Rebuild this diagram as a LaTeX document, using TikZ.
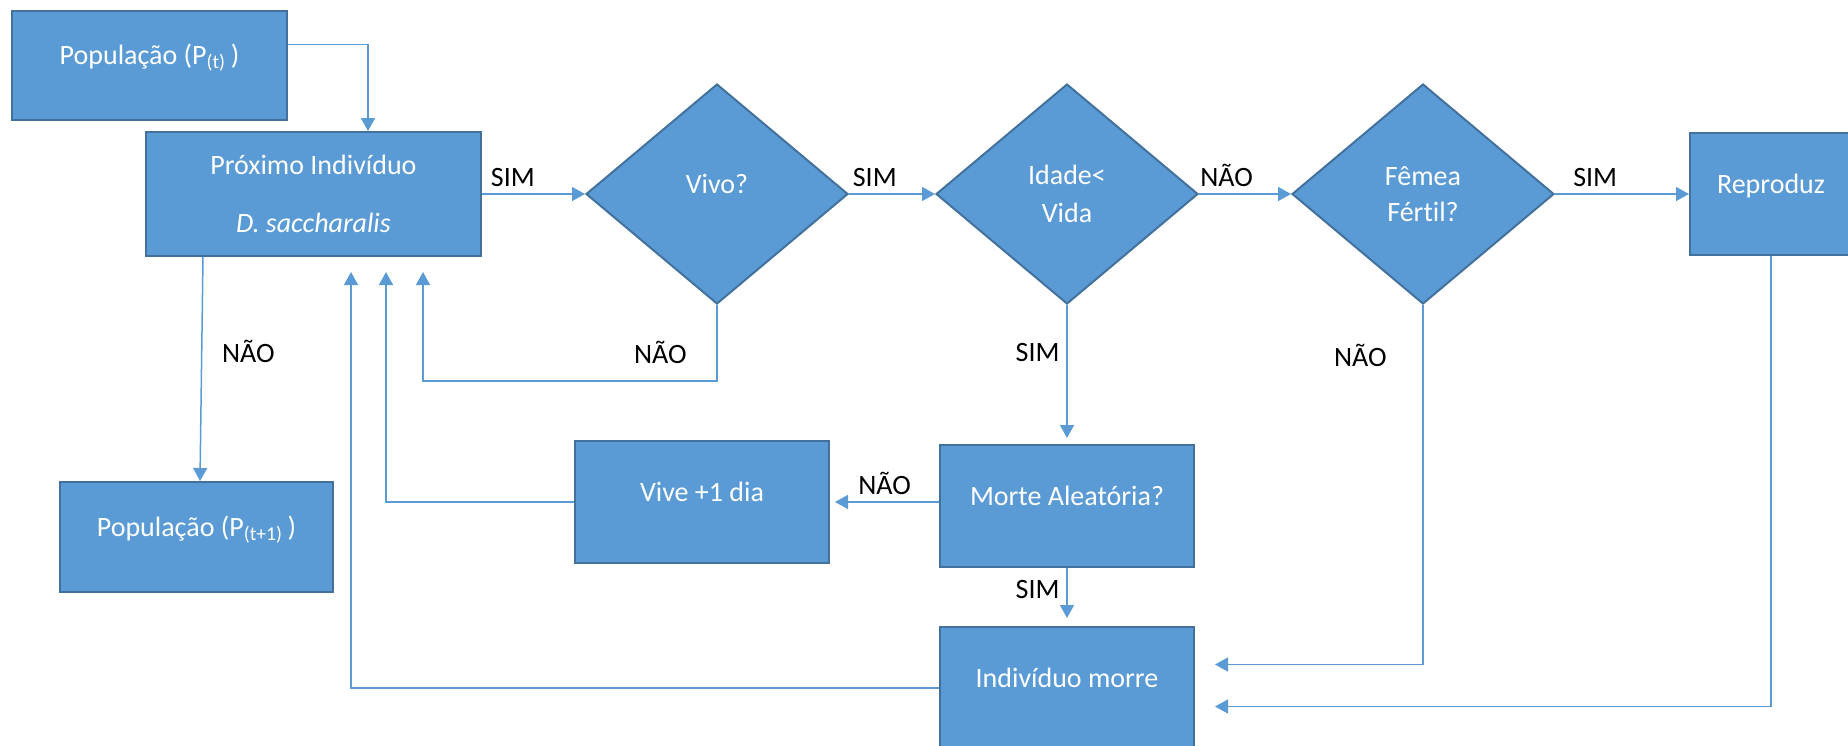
\documentclass[tikz,border=0pt]{standalone}
\usepackage{fontspec}
\setmainfont{Carlito}[Ligatures=NoCommon]
\usetikzlibrary{positioning,shapes.geometric,arrows.meta}

\definecolor{boxfill}{RGB}{91,155,213}
\definecolor{boxline}{RGB}{65,113,156}
\definecolor{flowline}{RGB}{91,155,213}

\tikzset{
  box/.style={draw=boxline, fill=boxfill, line width=1pt, text=white,
    font=\fontsize{14}{17}\selectfont, minimum width=127pt, minimum height=61pt, inner sep=2pt},
  raised/.style={text height=11pt, text depth=12pt},
  decision/.style={diamond, draw=boxline, fill=boxfill, line width=1pt, text=white,
    font=\fontsize{14}{17}\selectfont, minimum width=131pt, minimum height=110pt,
    inner sep=0pt, align=center},
  flow/.style={draw=flowline, line width=0.75pt, -{Triangle[length=6.5pt,width=7pt]}},
  answer/.style={font=\fontsize{14}{17}\selectfont, text=black},
}

\begin{document}
\begin{tikzpicture}
    \useasboundingbox (0,0) rectangle (924pt,-372.5pt);
    % main row
    \node[box, align=center, minimum width=167.5pt, minimum height=62pt] (prox) at (156.75pt,-97pt)
      {Próximo Indivíduo\\[12pt]\textit{D. saccharalis}};
    \node[decision, raised, right = 51.5pt of prox] (vivo) {Vivo?};
    \node[decision, right = 43pt of vivo] (idade) {Idade<\\[2pt]Vida};
    \node[decision, right = 46pt of idade] (femea) {Fêmea\\[1pt]Fértil?};
    \node[box, raised, minimum width=81pt, right = 67pt of femea] (repro) {Reproduz};
    % populations
    \node[box, raised, minimum width=137.5pt, minimum height=54.5pt, above = 5pt of prox, xshift=-82pt] (popt)
      {População (P\textsubscript{(t)}\,)};
    \node[box, raised, minimum width=136.5pt, minimum height=55pt, below = 112pt of prox, xshift=-58.5pt] (popt1)
      {População (P\textsubscript{(t+1)}\,)};
    % lower row
    \node[box, raised, below = 69.5pt of idade] (morte) {Morte Aleatória?};
    \node[box, raised, below = 29pt of morte] (morre) {Indivíduo morre};
    \node[box, raised, left = 54.5pt of morte, yshift=2pt] (vive) {Vive +1 dia};
    % yes / no along the row
    \draw[flow] ([yshift=10.5pt]popt.east) -| ([xshift=27.25pt]prox.north);
    \draw[flow] (prox) -- node[answer, above, pos=0.3] {SIM} (vivo);
    \draw[flow] (vivo) -- node[answer, above, pos=0.3] {SIM} (idade);
    \draw[flow] (idade) -- node[answer, above, pos=0.3] {NÃO} (femea);
    \draw[flow] (femea) -- node[answer, above, pos=0.3] {SIM} (repro);
    \draw[flow] ([xshift=-55.25pt]prox.south) -- node[answer, right=6.5pt, pos=0.42] {NÃO} ([xshift=1.75pt]popt1.north);
    % back to the next individual
    \draw[flow] (vivo.south) -- node[answer, left=11.5pt, pos=0.62] {NÃO} ++(0,-38pt)
      -| ([xshift=54.75pt,yshift=-7.5pt]prox.south);
    \draw[flow] (vive.west) -| ([xshift=36.25pt,yshift=-7.5pt]prox.south);
    \draw[flow] (morre.west) -| ([xshift=18.75pt,yshift=-7.5pt]prox.south);
    % death
    \draw[flow, shorten >=3pt] (idade) -- node[answer, left, pos=0.34] {SIM} (morte);
    \draw[flow, shorten >=2.5pt] (morte.west |- vive) -- node[answer, above] {NÃO} (vive);
    \draw[flow, shorten >=4pt] (morte) -- node[answer, left, pos=0.37] {SIM} (morre);
    \draw[flow] (femea.south) |- node[answer, left=14.5pt, pos=0.07] {NÃO} ([xshift=10pt,yshift=11.75pt]morre.east);
    \draw[flow] (repro.south) |- ([xshift=10pt,yshift=-9.25pt]morre.east);
\end{tikzpicture}
\end{document}
